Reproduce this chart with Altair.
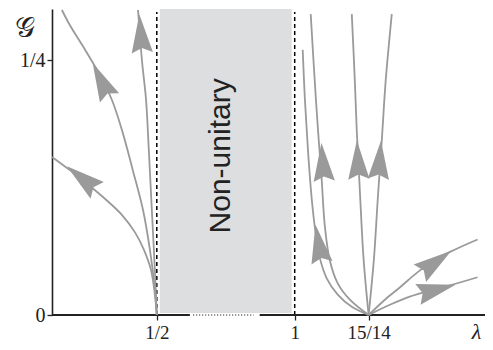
import altair as alt
import pandas as pd
import numpy as np

# ---- flow lines (each listed from its fixed point outward) ----
c1_lam = [0.500, 0.493, 0.479, 0.453, 0.421, 0.374, 0.316, 0.250, 0.185, 0.120]
c1_g   = [0.000, 0.020, 0.044, 0.064, 0.081, 0.098, 0.113, 0.128, 0.142, 0.155]
c2_lam = [0.500, 0.493, 0.475, 0.450, 0.413, 0.374, 0.337, 0.294, 0.240, 0.185, 0.156]
c2_g   = [0.000, 0.025, 0.064, 0.103, 0.142, 0.181, 0.211, 0.235, 0.260, 0.284, 0.299]
c3_lam = [0.500, 0.493, 0.482, 0.471, 0.461, 0.446, 0.432]
c3_g   = [0.000, 0.044, 0.103, 0.162, 0.211, 0.250, 0.299]
c4_lam = [1.268, 1.207, 1.156, 1.116, 1.091, 1.077, 1.062, 1.048, 1.037, 1.029]
c4_g   = [0.000, 0.008, 0.020, 0.036, 0.056, 0.078, 0.113, 0.162, 0.211, 0.260]
c5_lam = [1.268, 1.200, 1.156, 1.127, 1.109, 1.098, 1.087, 1.077, 1.058]
c5_g   = [0.000, 0.015, 0.031, 0.054, 0.088, 0.132, 0.172, 0.211, 0.295]
c6_lam = [1.268, 1.250, 1.236, 1.225, 1.218, 1.207]
c6_g   = [0.000, 0.054, 0.123, 0.181, 0.230, 0.295]
c7_lam = [1.268, 1.287, 1.301, 1.316, 1.330, 1.352]
c7_g   = [0.000, 0.054, 0.113, 0.172, 0.230, 0.295]
c8_lam = [1.268, 1.327, 1.381, 1.446, 1.508, 1.580, 1.663]
c8_g   = [0.000, 0.015, 0.027, 0.042, 0.054, 0.064, 0.074]
c9_lam = [1.268, 1.345, 1.417, 1.490, 1.562, 1.663]
c9_g   = [0.000, 0.010, 0.018, 0.024, 0.029, 0.037]

# ---- arrowheads: which curve, and where ----
arrow_curve = [1, 2, 3, 4, 5, 6, 7, 8, 9]
arrow_lam = [0.229, 0.298, 0.442, 1.087, 1.102, 1.229, 1.308, 1.511, 1.515]
arrow_g   = [0.134, 0.230, 0.276, 0.070, 0.150, 0.152, 0.152, 0.052, 0.025]

# ---- non-unitary region, dashed boundaries, axis pieces ----
region_lam = [0.5, 1.0]
dash_lam = [0.5, 1.0]
axis_solid_from = [0.12, 0.873]
axis_solid_to = [0.62, 1.69]
axis_dot_from = [0.632]
axis_dot_to = [0.851]
x_ticks = [0.5, 1.0, 1.268]
y_ticks = [0.0, 0.25]

XD = [0.12, 1.69]
YD = [0.0, 0.30]
W, H = 433, 306
sx = alt.Scale(domain=XD, nice=False, zero=False)
sy = alt.Scale(domain=YD, nice=False, zero=False)

curves = [(c1_lam, c1_g), (c2_lam, c2_g), (c3_lam, c3_g), (c4_lam, c4_g), (c5_lam, c5_g),
          (c6_lam, c6_g), (c7_lam, c7_g), (c8_lam, c8_g), (c9_lam, c9_g)]
rows = []
for k, (xs, ys) in enumerate(curves, start=1):
    for i, (a, b) in enumerate(zip(xs, ys)):
        rows.append({"curve": k, "i": i, "lam": a, "g": b})
df_curves = pd.DataFrame(rows)

PX = W / (XD[1] - XD[0])
PY = H / (YD[1] - YD[0])
arows = []
for k, a, b in zip(arrow_curve, arrow_lam, arrow_g):
    xs, ys = curves[k - 1]
    px = np.array(xs) * PX
    py = -np.array(ys) * PY
    cx, cy = a * PX, -b * PY
    best, bi = 1e9, 0
    for j in range(len(px) - 1):
        mx, my = (px[j] + px[j + 1]) / 2, (py[j] + py[j + 1]) / 2
        d = (mx - cx) ** 2 + (my - cy) ** 2
        if d < best:
            best, bi = d, j
    dx = px[bi + 1] - px[bi]
    dy = py[bi + 1] - py[bi]
    ang = (np.degrees(np.arctan2(dx, -dy)) + 360) % 360
    arows.append({"lam": a, "g": b, "angle": float(ang)})
df_arrows = pd.DataFrame(arows)

GRAY = "#9a9a9a"
INK = "#222222"
SERIF = "Liberation Serif"

x_axis = alt.Axis(
    values=x_ticks,
    labelExpr="datum.value > 1.1 ? '15/14' : (datum.value > 0.9 ? '1' : '1/2')",
    domain=False, grid=False, ticks=True, tickColor=INK, tickSize=5, tickWidth=1.3,
    labelFont=SERIF, labelFontSize=19, labelColor=INK, labelPadding=3,
    title="λ", titleFont=SERIF, titleFontStyle="italic", titleFontWeight="normal",
    titleFontSize=22, titleColor=INK, titleX=424, titleY=16,
    titleBaseline="middle", titleAlign="center", labelFlush=False)
y_axis = alt.Axis(
    values=y_ticks,
    labelExpr="datum.value > 0.1 ? '1/4' : '0'",
    domain=True, domainColor=INK, domainWidth=1.6, grid=False,
    tickColor=INK, tickSize=5, tickWidth=1.3,
    labelFont=SERIF, labelFontSize=20, labelColor=INK, labelPadding=2,
    title="", labelFlush=False)


def X(f):
    return alt.X(f, scale=sx, axis=x_axis)


def Y(f):
    return alt.Y(f, scale=sy, axis=y_axis)


df_region = pd.DataFrame({"lam": [region_lam[0]], "b": [region_lam[1]], "g": [YD[0]], "y1": [YD[1]]})
region = alt.Chart(df_region).mark_rect(color="#dddee0", xOffset=3, x2Offset=-3, yOffset=-2).encode(
    x=X("lam:Q"), x2="b:Q", y=Y("g:Q"), y2="y1:Q",
)

label = alt.Chart(pd.DataFrame({"lam": [0.732], "g": [0.156], "t": ["Non-unitary"]})).mark_text(
    angle=270, font="Liberation Sans", fontSize=30, color="#222222", align="center", baseline="middle"
).encode(x=X("lam:Q"), y=Y("g:Q"), text="t:N")

# y-axis title drawn as text placed left of the axis
ytitle = alt.Chart(pd.DataFrame({"t": ["𝒢"]})).mark_text(
    font=SERIF, fontSize=28, color=INK, align="left", baseline="middle"
).encode(x=alt.value(-37), y=alt.value(20), text="t:N")

df_dash = pd.DataFrame({"lam": dash_lam, "g": [0.0, 0.0], "y1": [0.297, 0.297]})
dashes = alt.Chart(df_dash).mark_rule(color="black", strokeWidth=1.5, strokeDash=[4, 3]).encode(
    x=X("lam:Q"), y=Y("g:Q"), y2="y1:Q",
)

df_axs = pd.DataFrame({"lam": axis_solid_from, "b": axis_solid_to, "g": [0.0, 0.0]})
axis_solid = alt.Chart(df_axs).mark_rule(color=INK, strokeWidth=2).encode(
    x=X("lam:Q"), x2="b:Q", y=Y("g:Q"))
df_axd = pd.DataFrame({"lam": axis_dot_from, "b": axis_dot_to, "g": [0.0]})
axis_dot = alt.Chart(df_axd).mark_rule(color="#555555", strokeWidth=1.5, strokeDash=[1, 2]).encode(
    x=X("lam:Q"), x2="b:Q", y=Y("g:Q"))

lines = alt.Chart(df_curves).mark_line(
    interpolate="catmull-rom", color=GRAY, strokeWidth=1.8
).encode(
    x=X("lam:Q"), y=Y("g:Q"), detail="curve:N", order="i:Q",
)

arrow_path = "M0,-1L0.55,1L0,0.75L-0.55,1Z"
arrows = alt.Chart(df_arrows).mark_point(
    shape=arrow_path, filled=True, color=GRAY, opacity=1, size=1500, strokeWidth=0
).encode(
    x=X("lam:Q"), y=Y("g:Q"),
    angle=alt.Angle("angle:Q", scale=None),
)

chart = alt.layer(region, label, dashes, axis_solid, axis_dot, lines, arrows, ytitle).properties(
    width=W, height=H,
    autosize=alt.AutoSizeParams(type="none"),
    padding={"left": 44, "top": 1, "right": 0, "bottom": 27},
).configure_view(stroke=None)

chart.save("out.html", embed_options={"renderer": "svg", "actions": False})
